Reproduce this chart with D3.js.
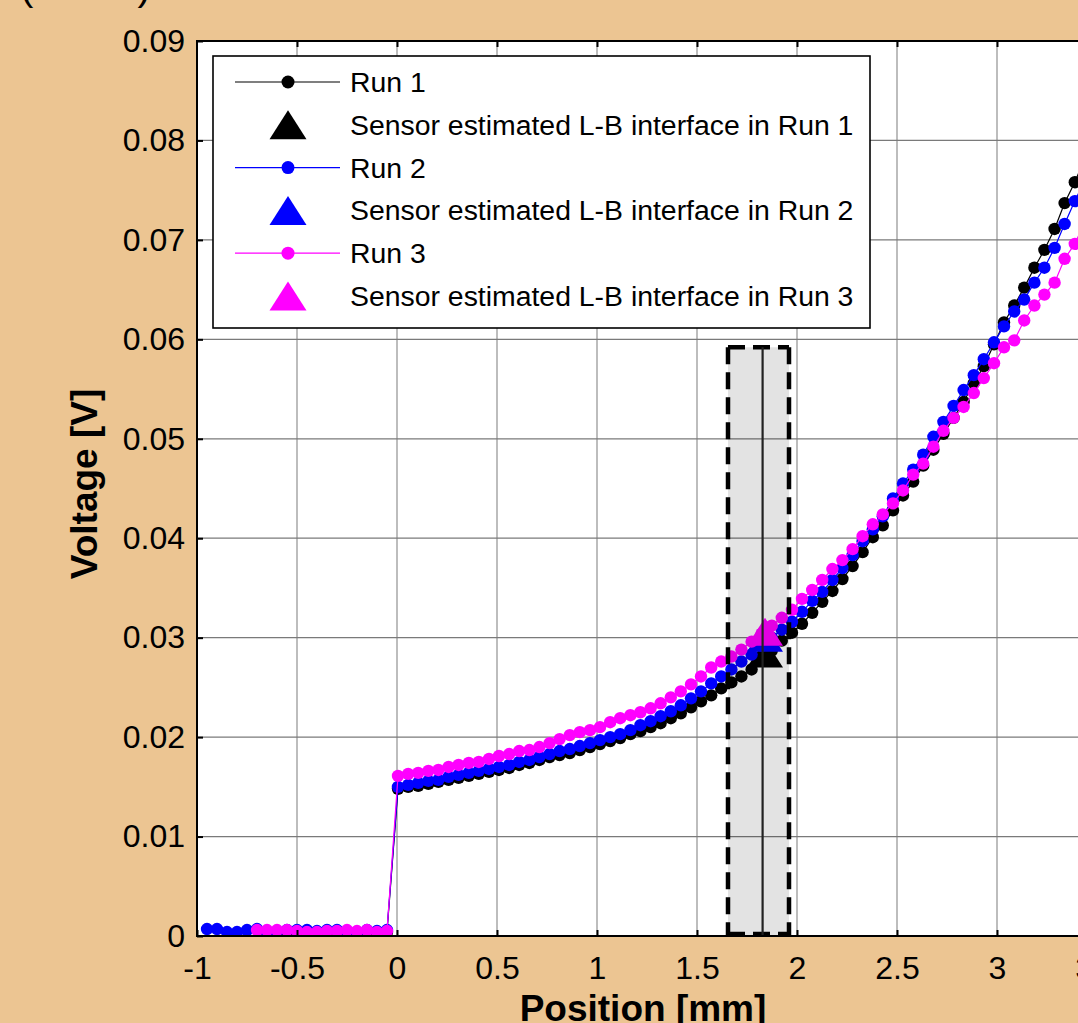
<!DOCTYPE html>
<html><head><meta charset="utf-8">
<script src="https://cdn.jsdelivr.net/npm/d3@7"></script>
<style>html,body{margin:0;padding:0;background:#ECC592;overflow:hidden}</style>
</head>
<body>
<svg id="c" width="1078" height="1023"></svg>
<script>
// ---------- DATA ----------
const positions = [
  -0.95,-0.90,-0.85,-0.80,-0.75,-0.70,-0.65,-0.60,-0.55,-0.50,-0.45,-0.40,-0.35,-0.30,-0.25,-0.20,-0.15,-0.10,-0.05,
  0.005,0.056,0.106,0.157,0.207,0.258,0.308,0.359,0.409,0.460,0.510,0.561,0.611,0.662,0.712,0.763,0.813,0.864,0.914,0.965,
  1.015,1.066,1.116,1.167,1.217,1.268,1.318,1.369,1.419,1.470,1.520,1.571,1.621,1.672,1.722,1.773,1.823,1.874,1.924,1.975,
  2.025,2.076,2.126,2.177,2.227,2.278,2.328,2.379,2.429,2.480,2.530,2.581,2.631,2.682,2.732,2.783,2.833,2.884,2.934,2.985,
  3.035,3.086,3.136,3.187,3.237,3.288,3.338,3.389,3.439
];
const run1 = [
  null,null,null,null,null,null,0.0004,0.0003,0.0004,0.0005,0.0003,0.0003,0.0004,0.0004,0.0003,0.0004,0.0003,0.0003,0.0004,
  0.0148,0.0150,0.0151,0.0153,0.0155,0.0157,0.0159,0.0161,0.0163,0.0165,0.0167,0.0169,0.0172,0.0174,0.0177,0.0180,0.0182,0.0184,0.0187,0.0190,
  0.0193,0.0196,0.0199,0.0203,0.0206,0.0210,0.0214,0.0219,0.0224,0.0230,0.0236,0.0242,0.0249,0.0255,0.0261,0.0268,0.0277,0.0287,0.0297,0.0305,
  0.0314,0.0325,0.0336,0.0347,0.0359,0.0372,0.0386,0.0401,0.0413,0.0428,0.0443,0.0457,0.0473,0.0489,0.0505,0.0521,0.0537,0.0556,0.0573,0.0595,
  0.0617,0.0634,0.0652,0.0672,0.0690,0.0711,0.0737,0.0758,0.0782
];
const run2 = [
  0.0007,0.0007,0.0004,0.0004,0.0006,0.0007,0.0004,0.0005,0.0006,0.0006,0.0006,0.0005,0.0006,0.0006,0.0005,0.0004,0.0006,0.0005,0.0006,
  0.0150,0.0152,0.0154,0.0156,0.0157,0.0160,0.0162,0.0164,0.0166,0.0168,0.0170,0.0172,0.0175,0.0177,0.0180,0.0183,0.0186,0.0188,0.0191,0.0194,
  0.0197,0.0200,0.0203,0.0207,0.0212,0.0216,0.0221,0.0226,0.0232,0.0239,0.0246,0.0254,0.0261,0.0268,0.0276,0.0283,0.0292,0.0300,0.0308,0.0316,
  0.0326,0.0337,0.0346,0.0358,0.0370,0.0383,0.0397,0.0409,0.0422,0.0440,0.0455,0.0469,0.0484,0.0502,0.0517,0.0533,0.0549,0.0564,0.0580,0.0597,
  0.0613,0.0628,0.0640,0.0657,0.0672,0.0692,0.0716,0.0739,0.0760
];
const run3 = [
  null,null,null,null,null,0.0006,0.0006,0.0006,0.0006,0.0005,0.0004,0.0004,0.0005,0.0005,0.0006,0.0005,0.0006,0.0004,0.0005,
  0.0161,0.0163,0.0164,0.0166,0.0167,0.0170,0.0172,0.0174,0.0175,0.0178,0.0181,0.0183,0.0186,0.0187,0.0190,0.0194,0.0198,0.0202,0.0205,0.0207,
  0.0210,0.0215,0.0219,0.0222,0.0225,0.0229,0.0234,0.0240,0.0246,0.0253,0.0261,0.0270,0.0276,0.0281,0.0288,0.0296,0.0304,0.0312,0.0320,0.0328,
  0.0339,0.0348,0.0358,0.0369,0.0378,0.0389,0.0402,0.0414,0.0424,0.0435,0.0448,0.0464,0.0475,0.0492,0.0508,0.0521,0.0532,0.0546,0.0561,0.0576,
  0.0592,0.0599,0.0619,0.0634,0.0645,0.0657,0.0681,0.0696,0.0718
];
const runNames = ["Run 1","Run 2","Run 3"];
const runColors = ["#000000","#0000FF","#FF00FF"];
const interfaceLabels = ["Sensor estimated L-B interface in Run 1","Sensor estimated L-B interface in Run 2","Sensor estimated L-B interface in Run 3"];
const interfacePos = [1.84, 1.84, 1.84];
const interfaceVolt = [0.0284, 0.0300, 0.0306];
const bandStart = 1.655, bandEnd = 1.96, bandTop = 0.0592, bandCenter = 1.828;
const xTicks = [-1,-0.5,0,0.5,1,1.5,2,2.5,3,3.5];
const xTickLabels = ["-1","-0.5","0","0.5","1","1.5","2","2.5","3","3.5"];
const yTicks = [0,0.01,0.02,0.03,0.04,0.05,0.06,0.07,0.08,0.09];
const yTickLabels = ["0","0.01","0.02","0.03","0.04","0.05","0.06","0.07","0.08","0.09"];
const xTitle = "Position [mm]", yTitle = "Voltage [V]";

// ---------- CHART ----------
const W = 1078, H = 1023;
const FONT = "'Liberation Sans', Arial, sans-serif";
const L = 197, T = 41, B = 936;
const svg = d3.select('#c');
svg.append('rect').attr('width', W).attr('height', H).attr('fill', '#ECC592');

const x = d3.scaleLinear().domain([-1, 3.5]).range([L, 1097]);
const y = d3.scaleLinear().domain([0, 0.09]).range([B, T]);

svg.append('defs').append('clipPath').attr('id', 'pc')
  .append('rect').attr('x', L).attr('y', T).attr('width', W - L).attr('height', B - T);

svg.append('rect').attr('x', L).attr('y', T).attr('width', W - L).attr('height', B - T).attr('fill', '#fff');

// grid
const grid = svg.append('g').attr('clip-path', 'url(#pc)');
grid.selectAll('.vg').data(xTicks.slice(1)).enter().append('line')
  .attr('x1', d => x(d)).attr('x2', d => x(d)).attr('y1', T).attr('y2', B)
  .attr('stroke', '#bdbdbd').attr('stroke-width', 2);
grid.selectAll('.hg').data(yTicks.slice(1, -1)).enter().append('line')
  .attr('x1', L).attr('x2', W).attr('y1', d => y(d)).attr('y2', d => y(d))
  .attr('stroke', '#7a7a7a').attr('stroke-width', 1.2);

// data
const plot = svg.append('g').attr('clip-path', 'url(#pc)');
const runs = [run1, run2, run3];
const tri = (w, h) => `M0,${-h/2}L${w/2},${h/2}L${-w/2},${h/2}Z`;
runs.forEach((vals, i) => {
  const pts = positions.map((p, j) => ({p, v: vals[j]}));
  const line = d3.line().defined(d => d.v != null).x(d => x(d.p)).y(d => y(d.v));
  plot.append('path').attr('d', line(pts)).attr('fill', 'none')
    .attr('stroke', runColors[i]).attr('stroke-width', 1.2);
  plot.selectAll(null).data(pts.filter(d => d.v != null)).enter().append('circle')
    .attr('cx', d => x(d.p)).attr('cy', d => y(d.v)).attr('r', 6.2).attr('fill', runColors[i]);
  plot.append('path').attr('d', tri(36, 28))
    .attr('transform', `translate(${x(interfacePos[i])},${y(interfaceVolt[i])})`)
    .attr('fill', runColors[i]);
});

// band overlay
const bx0 = x(bandStart), bx1 = x(bandEnd), by0 = y(bandTop);
plot.append('rect').attr('x', bx0).attr('y', by0).attr('width', bx1 - bx0).attr('height', B - by0)
  .attr('fill', '#000').attr('fill-opacity', 0.11);
[[bx0, by0, bx0, B], [bx1, by0, bx1, B], [bx0, by0, bx1, by0], [bx0, B - 2, bx1, B - 2]].forEach(c => {
  plot.append('line').attr('x1', c[0]).attr('y1', c[1]).attr('x2', c[2]).attr('y2', c[3])
    .attr('stroke', '#000').attr('stroke-width', 4.5).attr('stroke-dasharray', '17,8');
});
plot.append('line').attr('x1', x(bandCenter)).attr('x2', x(bandCenter)).attr('y1', by0).attr('y2', B)
  .attr('stroke', '#222').attr('stroke-width', 2.2);

// axes
const gx = svg.append('g').attr('transform', `translate(0,${B})`)
  .call(d3.axisBottom(x).tickValues(xTicks).tickFormat((d, i) => xTickLabels[i])
    .tickSizeInner(-6).tickSizeOuter(0).tickPadding(20));
gx.select('.domain').remove();
gx.selectAll('line').attr('stroke', '#000').attr('stroke-width', 2);
gx.selectAll('text').attr('font-size', 32).attr('font-family', FONT).attr('fill', '#000');

const gt = svg.append('g').attr('transform', `translate(0,${T})`)
  .call(d3.axisTop(x).tickValues(xTicks.slice(1)).tickFormat('').tickSizeInner(-6).tickSizeOuter(0));
gt.select('.domain').remove();
gt.selectAll('line').attr('stroke', '#000').attr('stroke-width', 2);

const gy = svg.append('g').attr('transform', `translate(${L},0)`)
  .call(d3.axisLeft(y).tickValues(yTicks).tickFormat((d, i) => yTickLabels[i])
    .tickSizeInner(-6).tickSizeOuter(0).tickPadding(12));
gy.select('.domain').remove();
gy.selectAll('line').attr('stroke', '#000').attr('stroke-width', 2);
gy.selectAll('text').attr('font-size', 32).attr('font-family', FONT).attr('fill', '#000');

svg.append('line').attr('x1', L).attr('x2', L).attr('y1', T - 1).attr('y2', B + 1).attr('stroke', '#000').attr('stroke-width', 2);
svg.append('line').attr('x1', L - 1).attr('x2', W).attr('y1', B).attr('y2', B).attr('stroke', '#000').attr('stroke-width', 2);
svg.append('line').attr('x1', L - 1).attr('x2', W).attr('y1', T).attr('y2', T).attr('stroke', '#000').attr('stroke-width', 2);

// titles
svg.append('text').attr('x', 643).attr('y', 1021).attr('text-anchor', 'middle')
  .attr('font-family', FONT).attr('font-weight', 'bold').attr('font-size', 37).text(xTitle);
svg.append('text').attr('transform', 'translate(97,484) rotate(-90)').attr('text-anchor', 'middle')
  .attr('font-family', FONT).attr('font-weight', 'bold').attr('font-size', 37).text(yTitle);
svg.append('text').attr('x', 20).attr('y', 0).attr('font-family', FONT).attr('font-size', 40)
  .attr('letter-spacing', 41).text('(a)');

// legend
const lg = svg.append('g');
lg.append('rect').attr('x', 213).attr('y', 56).attr('width', 657).attr('height', 272)
  .attr('fill', '#fff').attr('stroke', '#000').attr('stroke-width', 1.6);
const rowY0 = 82, rowStep = 42.8;
for (let i = 0; i < 3; i++) {
  const yr = rowY0 + rowStep * (2 * i);
  lg.append('line').attr('x1', 235).attr('x2', 340).attr('y1', yr).attr('y2', yr)
    .attr('stroke', runColors[i]).attr('stroke-width', 1.2);
  lg.append('circle').attr('cx', 288).attr('cy', yr).attr('r', 6.5).attr('fill', runColors[i]);
  lg.append('text').attr('x', 350).attr('y', yr + 10).attr('font-family', FONT).attr('font-size', 28.4)
    .text(runNames[i]);
  const yt = rowY0 + rowStep * (2 * i + 1);
  lg.append('path').attr('d', tri(37, 29)).attr('transform', `translate(288,${yt})`).attr('fill', runColors[i]);
  lg.append('text').attr('x', 350).attr('y', yt + 10).attr('font-family', FONT).attr('font-size', 28.4)
    .text(interfaceLabels[i]);
}
</script>
</body></html>
